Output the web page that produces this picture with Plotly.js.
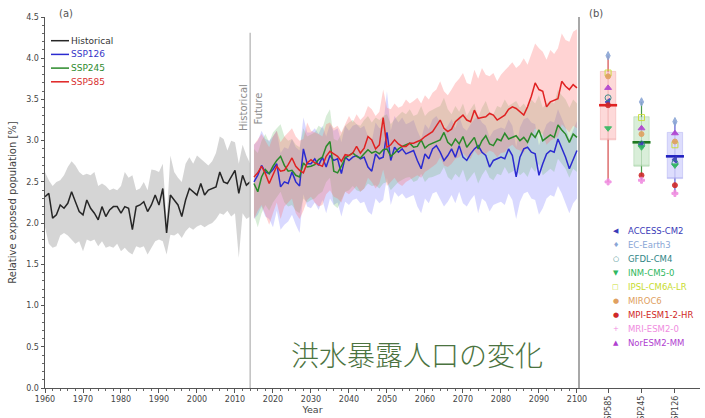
<!DOCTYPE html>
<html>
<head>
<meta charset="utf-8">
<script src="https://cdn.plot.ly/plotly-3.0.1.min.js"></script>
<style>
  html, body { margin: 0; padding: 0; background: #ffffff; }
  #chart { width: 705px; height: 418px; }
</style>
</head>
<body>
<div id="chart"></div>
<script>
// ---------- Panel (a): time series ----------
const histStart = 1960, histEnd = 2014;
const futStart = 2015, futEnd = 2100;

// Historical ensemble mean and spread, 1960-2014
const histMean = [
  2.32, 2.36, 2.06, 2.10, 2.22, 2.18, 2.24, 2.38, 2.26, 2.14,
  2.10, 2.28, 2.18, 2.12, 2.04, 2.20, 2.08, 2.16, 2.20, 2.20,
  2.12, 2.20, 2.18, 1.92, 2.20, 2.22, 2.26, 2.14, 2.22, 2.34,
  2.22, 2.42, 1.88, 2.34, 2.28, 2.22, 2.08, 2.28, 2.42, 2.38,
  2.34, 2.48, 2.34, 2.40, 2.42, 2.44, 2.62, 2.50, 2.48, 2.56,
  2.64, 2.36, 2.58, 2.46, 2.50
];
const histUpper = [
  2.62, 2.52, 2.45, 2.50, 2.52, 2.58, 2.68, 2.75, 2.70, 2.62,
  2.58, 2.60, 2.58, 2.62, 2.45, 2.48, 2.45, 2.40, 2.42, 2.40,
  2.45, 2.62, 2.55, 2.58, 2.40, 2.42, 2.50, 2.40, 2.65, 2.64,
  2.62, 2.72, 2.05, 2.82, 2.62, 2.55, 2.50, 2.72, 2.80, 2.72,
  2.82, 2.78, 2.74, 2.70, 2.75, 2.85, 3.05, 3.02, 2.88, 3.00,
  2.98, 2.72, 2.95, 2.82, 2.72
];
const histLower = [
  1.95, 1.75, 1.70, 1.72, 1.85, 1.88, 1.85, 1.80, 1.75, 1.78,
  1.66, 1.80, 1.78, 1.80, 1.72, 1.78, 1.70, 1.72, 1.70, 1.75,
  1.66, 1.70, 1.65, 1.62, 1.72, 1.70, 1.72, 1.62, 1.70, 1.78,
  1.80, 1.78, 1.62, 1.86, 1.85, 1.88, 1.82, 1.90, 1.95, 1.92,
  1.96, 1.98, 1.95, 1.98, 2.00, 2.05, 2.12, 2.10, 2.15, 2.08,
  2.12, 1.58, 2.12, 2.05, 2.08
];

// SSP126, 2015-2100
const ssp126Mean = [
  2.50, 2.58, 2.70, 2.62, 2.60,
  2.65, 2.72, 2.44, 2.50, 2.48, 2.62, 2.50, 2.45, 2.90, 2.72,
  2.72, 2.78, 2.70, 2.80, 2.68, 2.82, 2.76, 2.78, 2.60, 2.80,
  2.76, 2.80, 2.82, 2.78, 2.80, 2.68, 2.63, 2.84, 2.78, 2.80,
  3.10, 2.76, 2.92, 2.86, 2.90, 2.84, 2.86, 2.88, 2.76, 2.66,
  2.84, 2.78, 2.90, 2.94, 2.86, 2.76, 2.82, 2.90, 2.80, 2.94,
  2.80, 2.76, 2.84, 2.90, 2.94, 2.86, 2.82, 2.68, 2.76, 2.78,
  2.80, 2.78, 2.90, 2.82, 2.56, 2.80, 2.90, 2.92, 2.86, 2.84,
  2.58, 2.72, 2.84, 2.88, 2.86, 3.02, 2.92, 2.80, 2.66, 2.78,
  2.88
];
const ssp126Upper = [
  2.95, 3.00, 3.12, 3.02, 3.00,
  3.05, 3.12, 2.85, 2.92, 2.90, 3.02, 2.92, 2.88, 3.28, 3.10,
  3.10, 3.15, 3.08, 3.18, 3.05, 3.20, 3.12, 3.15, 2.98, 3.18,
  3.12, 3.18, 3.20, 3.15, 3.18, 3.05, 3.00, 3.22, 3.15, 3.18,
  3.60, 3.12, 3.30, 3.22, 3.28, 3.20, 3.22, 3.25, 3.12, 3.02,
  3.20, 3.14, 3.26, 3.30, 3.22, 3.12, 3.18, 3.26, 3.15, 3.30,
  3.16, 3.12, 3.20, 3.26, 3.30, 3.22, 3.18, 3.04, 3.12, 3.14,
  3.16, 3.14, 3.26, 3.18, 2.92, 3.16, 3.26, 3.28, 3.22, 3.20,
  2.94, 3.08, 3.20, 3.24, 3.22, 3.38, 3.28, 3.16, 3.02, 3.14,
  3.24
];
const ssp126Lower = [
  2.05, 2.10, 2.20, 2.08, 2.05,
  1.95, 2.15, 1.92, 1.98, 2.02, 2.10, 1.98, 1.88, 2.35, 2.20,
  2.18, 2.25, 2.16, 2.28, 2.12, 2.30, 2.22, 2.25, 2.08, 2.26,
  2.22, 2.28, 2.30, 2.24, 2.26, 2.14, 2.10, 2.30, 2.24, 2.28,
  2.55, 2.22, 2.38, 2.32, 2.36, 2.30, 2.32, 2.34, 2.20, 2.12,
  2.30, 2.24, 2.36, 2.38, 2.30, 2.20, 2.26, 2.34, 2.24, 2.38,
  2.24, 2.20, 2.28, 2.34, 2.12, 2.30, 2.26, 2.14, 2.22, 2.24,
  2.26, 2.22, 2.36, 2.28, 2.05, 2.26, 2.36, 2.38, 2.30, 2.28,
  2.10, 2.18, 2.30, 2.34, 2.32, 2.45, 2.36, 2.24, 2.12, 2.24,
  2.30
];

// SSP245, 2015-2100
const ssp245Mean = [
  2.48, 2.38, 2.56, 2.65, 2.60,
  2.69, 2.76, 2.81, 2.70, 2.63, 2.64, 2.58, 2.56, 2.73, 2.68,
  2.69, 2.71, 2.77, 2.80, 2.93, 2.99, 2.63, 2.61, 2.69, 2.79,
  2.82, 2.85, 2.81, 2.79, 2.84, 2.89, 2.85, 2.87, 2.84, 2.89,
  2.90, 2.81, 2.85, 2.90, 2.93, 2.95, 2.97, 2.92, 2.93, 3.01,
  2.91, 2.95, 2.97, 2.99, 3.01, 3.10, 2.98, 2.94, 3.02, 2.96,
  3.05, 2.92, 2.98, 3.04, 2.90, 3.00, 3.06, 2.96, 2.94, 3.02,
  3.00, 3.09, 3.02, 3.04, 3.06, 3.00, 3.04, 2.98, 3.09, 3.04,
  3.13, 3.00, 3.03, 3.07, 3.04, 3.19, 3.13, 3.08, 2.98, 3.08,
  3.04
];
const ssp245Upper = [
  2.90, 2.85, 3.00, 3.08, 2.98,
  3.10, 3.15, 3.20, 3.05, 3.00, 3.02, 2.95, 2.92, 3.15, 3.05,
  3.08, 3.10, 3.18, 3.15, 3.30, 3.38, 3.02, 3.00, 3.08, 3.18,
  3.22, 3.25, 3.20, 3.18, 3.25, 3.30, 3.22, 3.28, 3.25, 3.30,
  3.32, 3.20, 3.26, 3.30, 3.35, 3.32, 3.38, 3.30, 3.32, 3.42,
  3.30, 3.35, 3.38, 3.40, 3.42, 3.52, 3.38, 3.32, 3.42, 3.35,
  3.45, 3.30, 3.38, 3.45, 3.28, 3.40, 3.48, 3.35, 3.32, 3.42,
  3.40, 3.50, 3.42, 3.45, 3.48, 3.40, 3.45, 3.38, 3.50, 3.45,
  3.55, 3.40, 3.45, 3.48, 3.45, 3.62, 3.55, 3.50, 3.40, 3.50,
  3.45
];
const ssp245Lower = [
  2.10, 1.95, 2.12, 2.22, 2.15,
  2.25, 2.32, 2.38, 2.25, 2.20, 2.22, 2.15, 2.12, 2.30, 2.25,
  2.28, 2.30, 2.35, 2.38, 2.50, 2.55, 2.22, 2.18, 2.28, 2.38,
  2.40, 2.45, 2.40, 2.38, 2.42, 2.48, 2.45, 2.46, 2.42, 2.48,
  2.50, 2.40, 2.45, 2.50, 2.52, 2.55, 2.56, 2.50, 2.52, 2.60,
  2.50, 2.55, 2.56, 2.58, 2.60, 2.68, 2.56, 2.52, 2.60, 2.55,
  2.65, 2.50, 2.56, 2.62, 2.48, 2.58, 2.65, 2.55, 2.52, 2.60,
  2.58, 2.68, 2.60, 2.62, 2.65, 2.58, 2.62, 2.56, 2.68, 2.62,
  2.72, 2.58, 2.62, 2.66, 2.62, 2.78, 2.72, 2.66, 2.55, 2.66,
  2.62
];

// SSP585, 2015-2100
const ssp585Mean = [
  2.56, 2.61, 2.69, 2.60, 2.48,
  2.58, 2.69, 2.63, 2.64, 2.71, 2.79, 2.69, 2.64, 2.61, 2.73,
  2.77, 2.73, 2.71, 2.69, 2.81, 2.87, 2.84, 2.81, 2.75, 2.83,
  2.82, 2.85, 2.93, 2.85, 2.91, 3.05, 3.01, 2.90, 2.95, 3.28,
  2.92, 2.95, 3.01, 2.96, 2.93, 2.93, 2.97, 2.97, 2.99, 3.01,
  3.05, 3.08, 3.11, 3.18, 3.25, 3.15, 3.11, 3.14, 3.23, 3.27,
  3.31, 3.25, 3.23, 3.37, 3.27, 3.28, 3.29, 3.33, 3.31, 3.25,
  3.28, 3.31, 3.38, 3.41, 3.39, 3.35, 3.31, 3.41, 3.54, 3.70,
  3.62, 3.60, 3.41, 3.47, 3.49, 3.51, 3.72, 3.66, 3.62, 3.68,
  3.64
];
const ssp585Upper = [
  2.95, 3.02, 3.08, 3.00, 2.92,
  3.05, 3.12, 2.98, 3.05, 3.10, 3.15, 3.05, 3.00, 3.02, 3.22,
  3.12, 3.10, 3.08, 3.05, 3.20, 3.22, 3.15, 3.18, 3.10, 3.20,
  3.30, 3.22, 3.32, 3.25, 3.30, 3.42, 3.38, 3.30, 3.35, 3.62,
  3.40, 3.38, 3.45, 3.40, 3.42, 3.50, 3.45, 3.48, 3.52, 3.45,
  3.55, 3.50, 3.58, 3.62, 3.72, 3.60, 3.55, 3.62, 3.70, 3.75,
  3.82, 3.70, 3.68, 3.86, 3.75, 3.88, 3.80, 3.78, 3.82, 3.72,
  3.80, 3.85, 3.90, 3.95, 3.88, 3.92, 4.00, 3.92, 4.05, 4.18,
  4.12, 4.08, 3.98, 4.10, 4.05, 4.12, 4.30, 4.22, 4.20, 4.32,
  4.35
];
const ssp585Lower = [
  2.05, 2.15, 2.22, 2.10, 1.98,
  2.12, 2.25, 2.05, 2.20, 2.25, 2.30, 2.12, 2.05, 2.15, 2.28,
  2.32, 2.25, 2.20, 2.22, 2.35, 2.40, 2.32, 2.30, 2.25, 2.38,
  2.35, 2.40, 2.45, 2.38, 2.42, 2.55, 2.50, 2.42, 2.48, 2.65,
  2.45, 2.50, 2.55, 2.48, 2.45, 2.50, 2.52, 2.55, 2.58, 2.55,
  2.62, 2.65, 2.68, 2.72, 2.80, 2.70, 2.68, 2.72, 2.78, 2.80,
  2.85, 2.80, 2.78, 2.88, 2.82, 2.85, 2.84, 2.88, 2.86, 2.80,
  2.85, 2.86, 2.92, 2.95, 2.90, 2.88, 2.85, 2.95, 3.05, 3.15,
  3.10, 3.08, 2.95, 3.00, 3.02, 3.05, 3.20, 3.15, 3.10, 3.18,
  3.15
];

// ---------- Panel (b): end-of-century model spread ----------
const scenarios = ['SSP585', 'SSP245', 'SSP126'];
const boxMin    = [2.50, 2.52, 2.36];
const boxQ1     = [3.01, 2.69, 2.54];
const boxMedian = [3.43, 2.98, 2.81];
const boxQ3     = [3.84, 3.29, 3.10];
const boxMax    = [4.03, 3.47, 3.23];

const models = ['ACCESS-CM2', 'EC-Earth3', 'GFDL-CM4', 'INM-CM5-0', 'IPSL-CM6A-LR',
                'MIROC6', 'MPI-ESM1-2-HR', 'MRI-ESM2-0', 'NorESM2-MM'];
// one row per model: [SSP585, SSP245, SSP126]
const modelValues = [
  [3.47, 2.95, 2.77],
  [4.03, 3.47, 3.23],
  [3.52, 2.96, 2.73],
  [3.15, 2.92, 2.70],
  [3.82, 3.28, 2.95],
  [3.78, 3.08, 2.99],
  [3.43, 2.58, 2.46],
  [2.50, 2.52, 2.36],
  [3.64, 3.15, 3.09]
];

// ---------- styles ----------
const seriesStyle = {
  Historical: { line: '#262626', band: 'rgba(150,150,150,0.40)', text: '#333333' },
  SSP126: { line: '#2b2bd0', band: 'rgba(110,110,255,0.26)', text: '#3636c8' },
  SSP245: { line: '#2a8a2a', band: 'rgba(90,180,90,0.24)',   text: '#2e8b2e' },
  SSP585: { line: '#e02222', band: 'rgba(255,110,110,0.30)', text: '#d83030' }
};
const boxStyle = [
  { fill: 'rgba(250,165,165,0.42)', edge: 'rgba(240,160,160,0.55)', line: '#e02222', whisker: '#d44a4a' },
  { fill: 'rgba(165,215,165,0.42)', edge: 'rgba(155,205,155,0.55)', line: '#1f7a1f', whisker: '#4a9a4a' },
  { fill: 'rgba(175,175,250,0.42)', edge: 'rgba(165,165,240,0.55)', line: '#2020c0', whisker: '#5a5ad0' }
];
const modelStyle = [
  { color: '#3a3ab8', symbol: 'triangle-left', glyph: '\u25C0', size: 6 },
  { color: '#8aa6d6', symbol: 'diamond-tall',  glyph: '\u2666', size: 6 },
  { color: '#2f8585', symbol: 'circle-open',   glyph: '\u25CB', size: 6 },
  { color: '#30b860', symbol: 'triangle-down', glyph: '\u25BC', size: 6 },
  { color: '#c8dc30', symbol: 'square-open',   glyph: '\u25A1', size: 6 },
  { color: '#e0a060', symbol: 'circle',        glyph: '\u25CF', size: 5 },
  { color: '#d02828', symbol: 'circle',        glyph: '\u25CF', size: 5 },
  { color: '#f08ce0', symbol: 'cross',         glyph: '+',      size: 5 },
  { color: '#b040d0', symbol: 'triangle-up',   glyph: '\u25B2', size: 6 }
];

function yearRange(a, b) { const out = []; for (let y = a; y <= b; y++) out.push(y); return out; }
const histYears = yearRange(histStart, histEnd);
const futYears = yearRange(futStart, futEnd);

function band(x, upper, lower, color) {
  return {
    type: 'scatter', mode: 'lines', xaxis: 'x', yaxis: 'y',
    x: x.concat(x.slice().reverse()),
    y: upper.concat(lower.slice().reverse()),
    fill: 'toself', fillcolor: color, line: { width: 0 },
    hoverinfo: 'skip', showlegend: false
  };
}
function line(x, y, color) {
  return {
    type: 'scatter', mode: 'lines', xaxis: 'x', yaxis: 'y',
    x: x, y: y, line: { color: color, width: 1.5 }, showlegend: false
  };
}

const series = [
  { name: 'Historical', x: histYears, mean: histMean, up: histUpper, lo: histLower },
  { name: 'SSP126', x: futYears, mean: ssp126Mean, up: ssp126Upper, lo: ssp126Lower },
  { name: 'SSP245', x: futYears, mean: ssp245Mean, up: ssp245Upper, lo: ssp245Lower },
  { name: 'SSP585', x: futYears, mean: ssp585Mean, up: ssp585Upper, lo: ssp585Lower }
];

const data = [];
series.forEach(s => data.push(band(s.x, s.up, s.lo, seriesStyle[s.name].band)));
series.forEach(s => data.push(line(s.x, s.mean, seriesStyle[s.name].line)));

// Panel (b) boxes, whiskers, medians
const MED_HALF = 0.27;
scenarios.forEach((sc, i) => {
  data.push({
    type: 'box', xaxis: 'x2', yaxis: 'y2', x: [i],
    q1: [boxQ1[i]], median: [boxQ1[i]], q3: [boxQ3[i]],
    lowerfence: [boxQ1[i]], upperfence: [boxQ3[i]],
    width: 0.46, fillcolor: boxStyle[i].fill,
    line: { color: boxStyle[i].edge, width: 0.8 },
    whiskerwidth: 0, boxpoints: false, hoverinfo: 'skip', showlegend: false
  });
  data.push({
    type: 'scatter', mode: 'lines', xaxis: 'x2', yaxis: 'y2',
    x: [i, i, null, i, i], y: [boxMin[i], boxQ1[i], null, boxQ3[i], boxMax[i]],
    line: { color: boxStyle[i].whisker, width: 1.2 }, showlegend: false, hoverinfo: 'skip'
  });
  data.push({
    type: 'scatter', mode: 'lines', xaxis: 'x2', yaxis: 'y2',
    x: [i, i], y: [boxQ1[i], boxQ3[i]],
    line: { color: boxStyle[i].whisker, width: 0.8 }, opacity: 0.35,
    showlegend: false, hoverinfo: 'skip'
  });
  data.push({
    type: 'scatter', mode: 'lines', xaxis: 'x2', yaxis: 'y2',
    x: [i - MED_HALF, i + MED_HALF], y: [boxMedian[i], boxMedian[i]],
    line: { color: boxStyle[i].line, width: 2.6 }, showlegend: false, hoverinfo: 'skip'
  });
});
models.forEach((m, k) => {
  const st = modelStyle[k];
  data.push({
    type: 'scatter', mode: 'markers', xaxis: 'x2', yaxis: 'y2', name: m,
    x: scenarios.map((_, i) => i), y: modelValues[k],
    marker: { color: st.color, symbol: st.symbol, size: st.size, line: { color: st.color, width: 1 } },
    opacity: 0.9, showlegend: false
  });
});

// ---------- layout ----------
const M = { l: 45, r: 5, t: 17, b: 30 };
const W = 705, H = 418;
const plotW = W - M.l - M.r, plotH = H - M.t - M.b;
const px2x = px => (px - M.l) / plotW;
const px2y = py => (H - M.b - py) / plotH;
const splitX = px2x(580);

const axisFont = { family: 'DejaVu Sans', size: 8, color: '#444' };
const annotations = [];
const shapes = [];

// Panel letters
annotations.push({ xref: 'paper', yref: 'paper', x: px2x(57), y: px2y(13), xanchor: 'left', yanchor: 'middle',
  text: '(a)', showarrow: false, font: { family: 'DejaVu Sans', size: 10, color: '#555' } });
annotations.push({ xref: 'paper', yref: 'paper', x: px2x(587), y: px2y(13), xanchor: 'left', yanchor: 'middle',
  text: '(b)', showarrow: false, font: { family: 'DejaVu Sans', size: 10, color: '#555' } });

// Historical / Future divider
shapes.push({ type: 'line', xref: 'x', yref: 'y', x0: histEnd, x1: histEnd, y0: 0, y1: 4.31,
  line: { color: '#c4c4c4', width: 1.6 }, layer: 'above' });
annotations.push({ xref: 'x', yref: 'y', x: histEnd - 1.8, y: 3.40, textangle: -90, text: 'Historical',
  showarrow: false, font: { family: 'DejaVu Sans', size: 10, color: '#8c8c8c' } });
annotations.push({ xref: 'x', yref: 'y', x: histEnd + 2.3, y: 3.39, textangle: -90, text: 'Future',
  showarrow: false, font: { family: 'DejaVu Sans', size: 10, color: '#8c8c8c' } });

// Scenario key (top left of panel a)
series.forEach((s, i) => {
  const py = 40.7 + i * 13.7;
  shapes.push({ type: 'line', xref: 'paper', yref: 'paper', x0: px2x(51), x1: px2x(69), y0: px2y(py), y1: px2y(py),
    line: { color: seriesStyle[s.name].line, width: 1.5 } });
  annotations.push({ xref: 'paper', yref: 'paper', x: px2x(69), y: px2y(py), xanchor: 'left', yanchor: 'middle',
    text: s.name, showarrow: false, font: { family: 'DejaVu Sans', size: 9, color: seriesStyle[s.name].text } });
});

// Model key (panel b)
models.forEach((m, k) => {
  const py = 231 + k * 13.96;
  annotations.push({ xref: 'paper', yref: 'paper', x: px2x(615.5), y: px2y(py), xanchor: 'center', yanchor: 'middle',
    text: modelStyle[k].glyph, showarrow: false, font: { family: 'DejaVu Sans', size: 7, color: modelStyle[k].color } });
  annotations.push({ xref: 'paper', yref: 'paper', x: px2x(626), y: px2y(py), xanchor: 'left', yanchor: 'middle',
    text: m, showarrow: false, font: { family: 'DejaVu Sans', size: 8.5, color: modelStyle[k].color } });
});

// Caption
annotations.push({ xref: 'paper', yref: 'paper', x: px2x(417), y: px2y(354), xanchor: 'center', yanchor: 'middle',
  text: '洪水暴露人口の変化', showarrow: false,
  font: { family: 'Noto Sans CJK JP', size: 28, weight: 300, color: '#4b7340' } });

const layout = {
  width: W, height: H, margin: M,
  paper_bgcolor: '#ffffff', plot_bgcolor: '#ffffff',
  font: axisFont, showlegend: false,
  xaxis: {
    domain: [0, splitX], range: [histStart, 2100.8], anchor: 'y',
    tickmode: 'linear', tick0: 1960, dtick: 10, ticks: 'outside', ticklen: 3.5, tickwidth: 1, tickcolor: '#555',
    minor: { dtick: 2, ticks: 'outside', ticklen: 2, tickcolor: '#666' },
    showline: true, linecolor: '#555', linewidth: 1, showgrid: false, zeroline: false,
    tickfont: axisFont, automargin: false,
    title: { text: 'Year', font: { family: 'DejaVu Sans', size: 9.5, color: '#444' }, standoff: 2 }
  },
  yaxis: {
    domain: [0, 1], range: [0, 4.5], anchor: 'x',
    tickmode: 'linear', tick0: 0, dtick: 0.5, tickformat: '.1f',
    ticks: 'outside', ticklen: 3.5, tickwidth: 1, tickcolor: '#555',
    minor: { dtick: 0.1, ticks: 'outside', ticklen: 2, tickcolor: '#666' },
    showline: true, linecolor: '#555', linewidth: 1, showgrid: false, zeroline: false,
    tickfont: axisFont, automargin: false,
    title: { text: 'Relative exposed population [%]', font: { family: 'DejaVu Sans', size: 10, color: '#444' }, standoff: 7 }
  },
  xaxis2: {
    domain: [splitX, 1], range: [-0.84, 2.75], anchor: 'y2',
    tickmode: 'array', tickvals: scenarios.map((_, i) => i), ticktext: scenarios, tickangle: -90,
    ticks: 'outside', ticklen: 3.5, tickcolor: '#555',
    showline: true, linecolor: '#555', linewidth: 1, showgrid: false, zeroline: false,
    tickfont: axisFont, automargin: false
  },
  yaxis2: {
    domain: [0, 1], range: [0, 4.5], anchor: 'x2', matches: 'y',
    showline: true, linecolor: '#a8a8a8', linewidth: 2,
    showticklabels: false, ticks: '', showgrid: false, zeroline: false
  },
  shapes: shapes,
  annotations: annotations
};

Plotly.newPlot('chart', data, layout, { staticPlot: true, displayModeBar: false });
</script>
</body>
</html>
